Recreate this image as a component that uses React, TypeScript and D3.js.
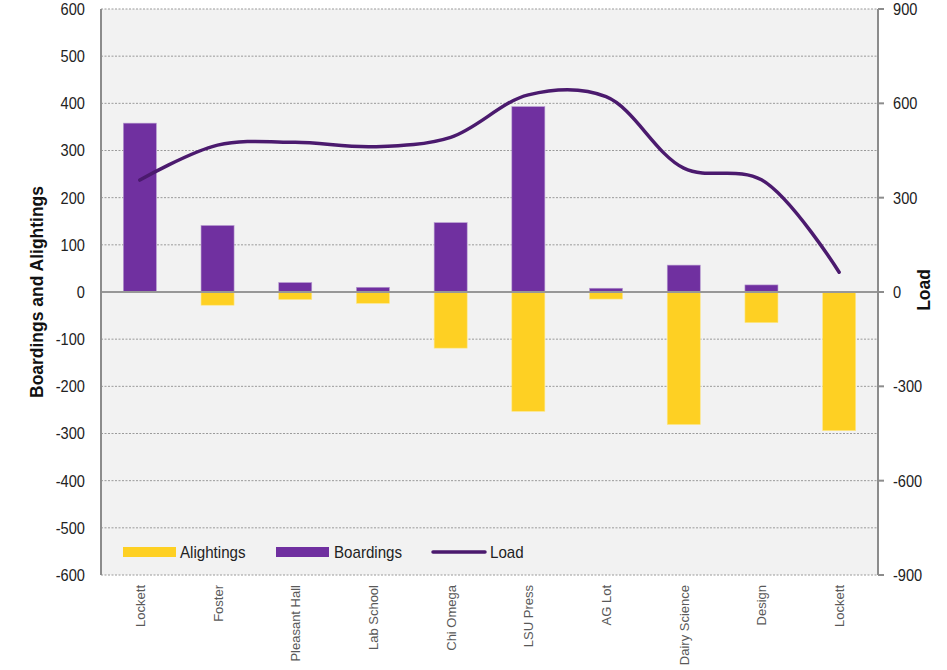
import React from "react";
import * as d3 from "d3";

const categories = ["Lockett", "Foster", "Pleasant Hall", "Lab School", "Chi Omega", "LSU Press", "AG Lot", "Dairy Science", "Design", "Lockett"];
const boardings = [358, 141, 20, 10, 147, 393, 8, 57, 15, 0];
const alightings = [0, -28, -16, -24, -119, -253, -15, -281, -65, -294];
const load = [356, 467, 476, 462, 492, 627, 621, 394, 357, 63];
const leftTicks = [600, 500, 400, 300, 200, 100, 0, -100, -200, -300, -400, -500, -600];
const rightTicks = [900, 600, 300, 0, -300, -600, -900];

const W = 947, H = 670;
const L = 101, R = 878, T = 9, B = 575;
const font = "'Liberation Sans', Arial, sans-serif";
const PURPLE = "#7030a0";
const YELLOW = "#fed023";
const LINE = "#4b1a6e";

function NText(props: { x: number; y: number; anchor?: string; size: number; sx?: number; rotate?: number; weight?: string; fill?: string; children: React.ReactNode }) {
  const { x, y, anchor = "start", size, sx = 0.88, rotate = 0, weight = "normal", fill = "#222", children } = props;
  return (
    <g transform={`translate(${x},${y}) rotate(${rotate}) scale(${sx},1)`}>
      <text x={0} y={0} dy="0.35em" textAnchor={anchor} fontFamily={font} fontSize={size} fontWeight={weight} fill={fill}>{children}</text>
    </g>
  );
}

export default function App() {
  const x = d3.scaleBand<number>().domain(categories.map((_, i) => i)).range([L, R]).paddingInner(0.575).paddingOuter(0.2875);
  const yL = d3.scaleLinear().domain([-600, 600]).range([B, T]);
  const yR = d3.scaleLinear().domain([-900, 900]).range([B, T]);
  const cx = (i: number) => (x(i) as number) + x.bandwidth() / 2;
  const line = d3.line<number>().x((_, i) => cx(i)).y((d) => yR(d)).curve(d3.curveCatmullRom.alpha(0.5));

  return (
    <svg width={W} height={H} style={{ position: "absolute", left: 0, top: 0, background: "#fff" }}>
      <rect x={L} y={T} width={R - L} height={B - T} fill="#f2f2f2" />
      {leftTicks.map((t) => (
        <line key={"g" + t} x1={L} x2={R} y1={yL(t)} y2={yL(t)} stroke="#9a9a9a" strokeWidth={1} strokeDasharray="2,1.5" />
      ))}
      {boardings.map((v, i) => (
        <rect key={"b" + i} x={x(i)} width={x.bandwidth()} y={yL(Math.max(0, v))} height={Math.abs(yL(v) - yL(0))} fill={PURPLE} stroke="#b79bd0" strokeWidth={0.6} />
      ))}
      {alightings.map((v, i) => (
        <rect key={"a" + i} x={x(i)} width={x.bandwidth()} y={yL(0)} height={Math.abs(yL(v) - yL(0))} fill={YELLOW} stroke="#fde88a" strokeWidth={0.6} />
      ))}
      <line x1={L} x2={R} y1={yL(0)} y2={yL(0)} stroke="#979797" strokeWidth={2} />
      <line x1={L} x2={L} y1={T} y2={B} stroke="#8c8c8c" strokeWidth={2} />
      <line x1={R} x2={R} y1={T} y2={B} stroke="#8c8c8c" strokeWidth={2} />
      {rightTicks.map((t) => (
        <line key={"rt" + t} x1={R} x2={R + 6} y1={yR(t)} y2={yR(t)} stroke="#8c8c8c" strokeWidth={2} />
      ))}
      <path d={line(load) || ""} fill="none" stroke={LINE} strokeWidth={3.5} strokeLinecap="round" />
      {leftTicks.map((t) => (
        <NText key={"lt" + t} x={85} y={yL(t)} anchor="end" size={17} sx={0.86}>{t}</NText>
      ))}
      {rightTicks.map((t) => (
        <NText key={"rl" + t} x={893} y={yR(t)} anchor="start" size={17} sx={0.86}>{t}</NText>
      ))}
      {categories.map((c, i) => (
        <text key={"c" + i} transform={`translate(${cx(i) + 5},${B + 10}) rotate(-90)`} textAnchor="end" fontFamily={font} fontSize={13} fill="#595959">{c}</text>
      ))}
      <g transform={`translate(36,${yL(0)}) rotate(-90) scale(0.92,1)`}>
        <text x={0} y={0} dy="0.35em" textAnchor="middle" fontFamily={font} fontWeight="bold" fontSize={19} fill="#111">Boardings and Alightings</text>
      </g>
      <g transform={`translate(923,${yL(0) - 2}) rotate(-90) scale(0.92,1)`}>
        <text x={0} y={0} dy="0.35em" textAnchor="middle" fontFamily={font} fontWeight="bold" fontSize={19} fill="#111">Load</text>
      </g>
      <rect x={123} y={547} width={53} height={10} fill={YELLOW} />
      <NText x={180} y={552} size={17} sx={0.89}>Alightings</NText>
      <rect x={276} y={547} width={53} height={10} fill={PURPLE} />
      <NText x={334} y={552} size={17} sx={0.89}>Boardings</NText>
      <line x1={433} x2={485} y1={552} y2={552} stroke={LINE} strokeWidth={3.5} strokeLinecap="round" />
      <NText x={490} y={552} size={17} sx={0.89}>Load</NText>
    </svg>
  );
}
